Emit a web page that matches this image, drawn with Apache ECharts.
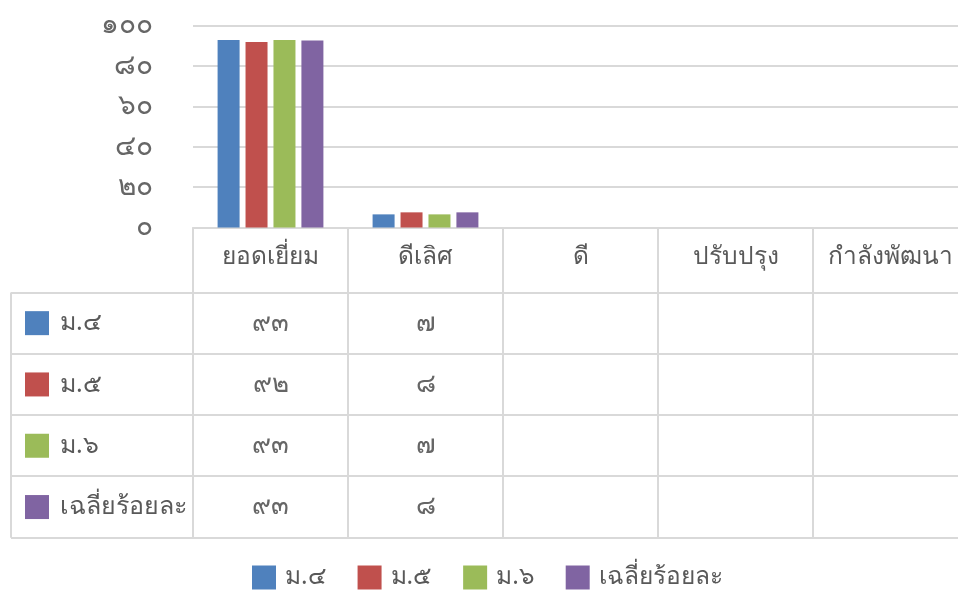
<!DOCTYPE html>
<html>
<head>
<meta charset="utf-8">
<script src="https://cdn.jsdelivr.net/npm/echarts@6/dist/echarts.min.js"></script>
<style>
html,body{margin:0;padding:0;background:#fff;}
#main{width:958px;height:595px;}
</style>
</head>
<body>
<div id="main"></div>
<script>
const categories = ['ยอดเยี่ยม', 'ดีเลิศ', 'ดี', 'ปรับปรุง', 'กำลังพัฒนา'];
const seriesNames = ['ม.๔', 'ม.๕', 'ม.๖', 'เฉลี่ยร้อยละ'];
const m4 = [92.8, 6.5, null, null, null];
const m5 = [91.8, 7.5, null, null, null];
const m6 = [92.8, 6.5, null, null, null];
const avg = [92.6, 7.5, null, null, null];
const yMin = 0, yMax = 100, yStep = 20;
const colors = ['#4F81BD', '#C0504D', '#9BBB59', '#8064A2'];

const seriesData = [m4, m5, m6, avg];
const FONT = "'Noto Sans', 'DejaVu Sans', sans-serif";
const TXT = '#595959';
const LINE = '#d9d9d9';
const thaiDigits = '๐๑๒๓๔๕๖๗๘๙';
function toThai(n) {
  return String(n).replace(/[0-9]/g, d => thaiDigits[+d]);
}

const chart = echarts.init(document.getElementById('main'), null, {renderer: 'canvas'});
chart.setOption({
  animation: false,
  color: colors,
  textStyle: {fontFamily: FONT},
  grid: {left: 193, top: 25.5, width: 775, height: 202, outerBoundsMode: 'none', containLabel: false},
  legend: {
    data: seriesNames,
    bottom: 0,
    left: 247,
    icon: 'rect',
    itemWidth: 24,
    itemHeight: 24,
    itemGap: 31,
    textStyle: {fontSize: 24.5, color: TXT, fontFamily: FONT, padding: [0, 0, 0, 4]}
  },
  xAxis: {
    type: 'category',
    data: categories,
    axisLine: {show: true, lineStyle: {color: LINE, width: 2}},
    axisTick: {show: false},
    axisLabel: {fontSize: 24.5, color: TXT, margin: 17, fontFamily: FONT, interval: 0}
  },
  yAxis: {
    type: 'value',
    min: yMin, max: yMax, interval: yStep,
    axisLine: {show: false},
    axisTick: {show: false},
    splitLine: {lineStyle: {color: LINE, width: 2}},
    axisLabel: {fontSize: 28, color: '#666666', margin: 40, fontFamily: FONT, formatter: v => toThai(v)}
  },
  series: seriesNames.map((name, i) => ({
    name: name,
    type: 'bar',
    data: seriesData[i],
    barWidth: 22,
    barGap: '27%',
    itemStyle: {color: colors[i]}
  }))
});

// Data table drawn under the category axis, positioned from the axes
const c0 = chart.convertToPixel({xAxisIndex: 0}, 0);
const c1 = chart.convertToPixel({xAxisIndex: 0}, 1);
const band = c1 - c0;
const tableLeftCol = c0 - band / 2;
const axisY = chart.convertToPixel({yAxisIndex: 0}, 0);
const headerH = 65;
const rowH = 61.3;
const tableX = 11;
const rightX = tableLeftCol + band * categories.length;
const els = [];
const firstRowY = axisY + headerH;
const bottomY = firstRowY + rowH * seriesNames.length;
for (let r = 0; r <= seriesNames.length; r++) {
  const y = Math.round(firstRowY + rowH * r);
  els.push({type: 'line', shape: {x1: tableX, y1: y, x2: rightX, y2: y}, style: {stroke: LINE, lineWidth: 2}});
}
els.push({type: 'line', shape: {x1: tableX, y1: firstRowY, x2: tableX, y2: bottomY}, style: {stroke: LINE, lineWidth: 2}});
for (let c = 0; c <= categories.length; c++) {
  const x = Math.round(tableLeftCol + band * c);
  els.push({type: 'line', shape: {x1: x, y1: axisY, x2: x, y2: bottomY}, style: {stroke: LINE, lineWidth: 2}});
}
seriesNames.forEach((name, r) => {
  const cy = firstRowY + rowH * r + rowH / 2;
  els.push({type: 'rect', shape: {x: tableX + 14, y: cy - 12, width: 24, height: 24}, style: {fill: colors[r]}});
  els.push({type: 'text', x: tableX + 49, y: cy, style: {text: name, fill: TXT, font: '25px ' + FONT, verticalAlign: 'middle', align: 'left'}});
  seriesData[r].forEach((v, c) => {
    if (v === null || v === undefined) return;
    const cx = chart.convertToPixel({xAxisIndex: 0}, c);
    els.push({type: 'text', x: cx, y: cy, style: {text: toThai(Math.round(v)), fill: '#666666', font: '26px ' + FONT, verticalAlign: 'middle', align: 'center'}});
  });
});
chart.setOption({graphic: {elements: els}});
</script>
</body>
</html>
